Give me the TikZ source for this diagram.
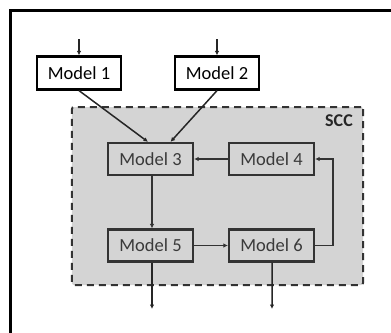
\documentclass[tikz,border=0pt]{standalone}
\usepackage{fontspec}
\setmainfont{Carlito}
\usetikzlibrary{arrows.meta,calc}
\definecolor{sccgray}{HTML}{D4D4D4}
\definecolor{boxline}{HTML}{333333}
\definecolor{boxtext}{HTML}{3A3A3A}
\tikzset{
  outerbox/.style={draw=black,line width=2.2bp,fill=white,minimum width=84bp,minimum height=33bp,inner sep=0pt,font=\fontsize{18.5bp}{21bp}\selectfont,text=black},
  innerbox/.style={draw=boxline,line width=2.2bp,fill=sccgray,minimum width=85bp,minimum height=32bp,inner sep=0pt,font=\fontsize{18.5bp}{21bp}\selectfont,text=boxtext},
  conn/.style={draw=black!85,line width=1.5bp,-{Latex[length=4.5bp,width=4.5bp]}},
  iconn/.style={draw=boxline,line width=1.5bp,-{Latex[length=4.5bp,width=4.5bp]}}
}
\begin{document}
\begin{tikzpicture}[x=1bp,y=-1bp]
\useasboundingbox (0,0) rectangle (391,333);
% outer frame (only left and top visible)
\draw[line width=2.2bp] (10.5,345) -- (10.5,10.5) -- (400,10.5);
% SCC region
\node[draw=black!80,fill=sccgray,line width=2bp,dash pattern=on 7bp off 5bp,rounded corners=2bp,minimum width=291bp,minimum height=178bp,inner sep=0pt] (scc) at (217.5,196) {};
\node[font=\bfseries\fontsize{18bp}{20bp}\selectfont,text=black!85] (scclabel) at (339,121) {SCC};
% models
\node[outerbox] (m1) at (79,73) {Model 1};
\node[outerbox] (m2) at (217,73) {Model 2};
\node[innerbox] (m3) at (150.5,159) {Model 3};
\node[innerbox] (m4) at (271.5,159) {Model 4};
\node[innerbox] (m5) at (150.5,245.5) {Model 5};
\node[innerbox] (m6) at (271.5,245.5) {Model 6};
% free ends
\coordinate (in1) at (79,39);
\coordinate (in2) at (217,39);
\coordinate (out5) at (152,309);
\coordinate (out6) at (272,309);
\coordinate (fb) at (333,200);
% connectors
\draw[conn] (in1) -- (m1.north);
\draw[conn] (in2) -- (m2.north);
\draw[conn] (m1.south) -- ([xshift=-2.5bp]m3.north);
\draw[conn] (m2.south) -- ([xshift=20bp]m3.north);
\draw[iconn] (m4.west) -- (m3.east);
\draw[iconn] ([xshift=1.5bp]m3.south) -- ([xshift=1.5bp]m5.north);
\draw[iconn] (m5.east) -- (m6.west);
\draw[iconn] (m6.east) -- (m6.east -| fb) |- (m4.east);
\draw[conn] ([xshift=1.5bp]m5.south) -- (out5);
\draw[conn] ([xshift=0.5bp]m6.south) -- (out6);
\end{tikzpicture}
\end{document}
